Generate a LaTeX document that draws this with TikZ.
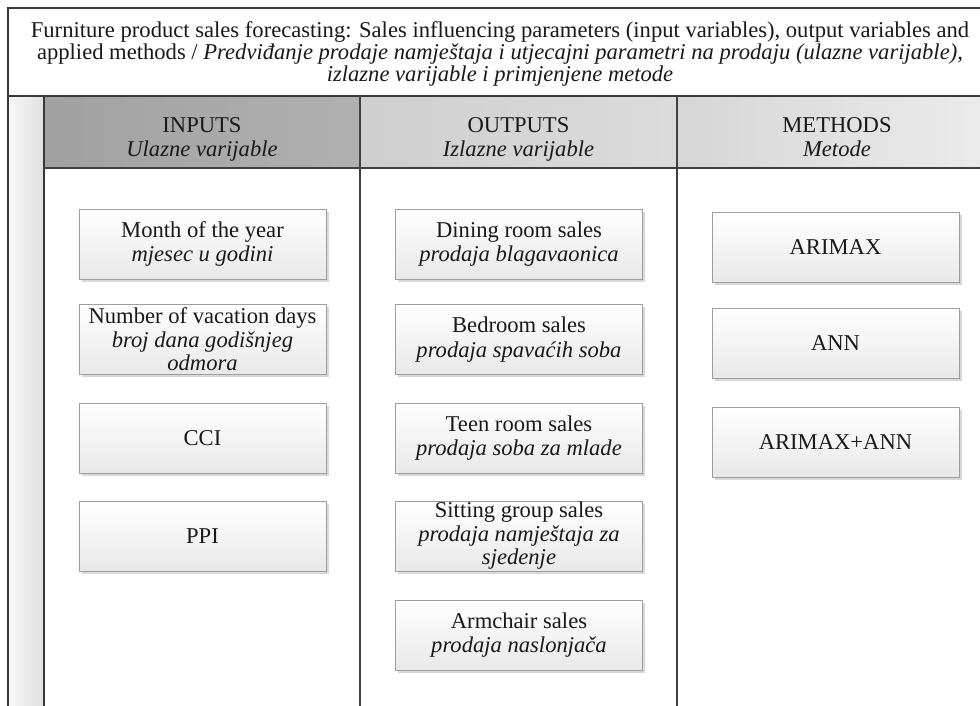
\documentclass[tikz,border=0pt]{standalone}
\usepackage{fontspec}
\setmainfont{Liberation Serif}
\usetikzlibrary{shadows}
\begin{document}
\begin{tikzpicture}[x=1pt,y=-1pt,
  frame/.style={draw=black!78, line width=1.6pt},
  divider/.style={draw=black!75, line width=1.2pt},
  cell/.style={draw=black!38, line width=0.8pt, top color=white, bottom color=black!9,
    minimum width=247pt, minimum height=70pt, inner xsep=0pt, inner ysep=0pt,
    align=center, font=\fontsize{22.6}{24.5}\selectfont, text=black!90,
    drop shadow={shadow xshift=2.5pt, shadow yshift=-2.5pt, fill=black!25, opacity=0.6}},
  tallcell/.style={cell, font=\fontsize{22.6}{23.5}\selectfont, inner ysep=-4pt},
  head/.style={align=center, anchor=north, inner sep=0pt, font=\fontsize{22.6}{23.5}\selectfont, text=black!90},
  titletext/.style={align=center, font=\fontsize{22.6}{22}\selectfont, text=black!90}
]
\useasboundingbox (0,0) rectangle (980,706);
\fill[white] (0,0) rectangle (980,706);

% header backgrounds
\shade[left color=black!37, right color=black!31] (44,96) rectangle (360,168);
\shade[left color=black!19, right color=black!14] (360,96) rectangle (677,168);
\shade[left color=black!16, right color=black!8] (677,96) rectangle (980,168);
% left strip
\shade[left color=black!3, right color=black!12] (8,96) rectangle (44,706);

% frame lines
\draw[frame] (8,706) -- (8,8) -- (980,8);
\draw[frame] (8,96) -- (980,96);
\draw[frame] (44,96) -- (44,706);
\draw[divider] (44,168) -- (980,168);
\draw[divider] (360,96) -- (360,706);
\draw[divider] (677,96) -- (677,706);

% title
\node[titletext] (title) at (500,53.5) {Furniture product sales forecasting: Sales influencing parameters (input variables), output variables and\\
applied methods / \textit{Predviđanje prodaje namještaja i utjecajni parametri na prodaju (ulazne varijable),}\\
\textit{izlazne varijable i primjenjene metode}};

% column headers
\node[head] (hin) at (202,117.5) {INPUTS\\\textit{Ulazne varijable}};
\node[head] (hout) at (518.5,117.5) {OUTPUTS\\\textit{Izlazne varijable}};
\node[head] (hmeth) at (837,117.5) {METHODS\\\textit{Metode}};

% inputs
\node[cell] (in1) at (202.5,244) {Month of the year\\\textit{mjesec u godini}};
\node[tallcell] (in2) at (202.5,339.5) {Number of vacation days\\\textit{broj dana godišnjeg}\\\textit{odmora}};
\node[cell] (in3) at (202.5,438) {CCI};
\node[cell] (in4) at (202.5,536) {PPI};

% outputs
\node[cell] (out1) at (519,244) {Dining room sales\\\textit{prodaja blagavaonica}};
\node[cell] (out2) at (519,339.5) {Bedroom sales\\\textit{prodaja spavaćih soba}};
\node[cell] (out3) at (519,438) {Teen room sales\\\textit{prodaja soba za mlade}};
\node[tallcell] (out4) at (519,536) {Sitting group sales\\\textit{prodaja namještaja za}\\\textit{sjedenje}};
\node[cell] (out5) at (519,635) {Armchair sales\\\textit{prodaja naslonjača}};

% methods
\node[cell] (m1) at (835.5,247.5) {ARIMAX};
\node[cell] (m2) at (835.5,343) {ANN};
\node[cell] (m3) at (835.5,442) {ARIMAX+ANN};
\end{tikzpicture}
\end{document}
